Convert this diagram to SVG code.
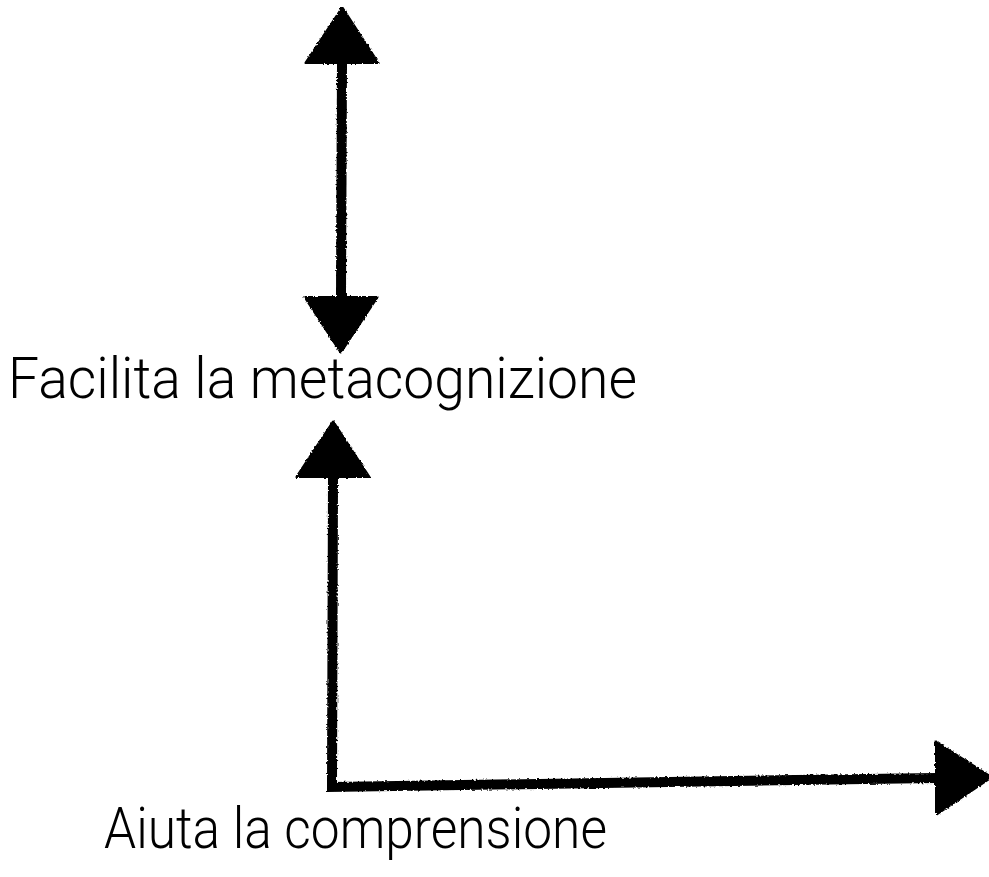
<svg xmlns="http://www.w3.org/2000/svg" width="989" height="877" viewBox="0 0 989 877">
  <defs>
    <style>
      .conn { fill: none; stroke: #000; stroke-width: 10; stroke-linejoin: miter; stroke-linecap: butt; filter: url(#rough); }
      .label { font-family: Roboto, "Liberation Sans", Arial, sans-serif; font-size: 57px; font-weight: 300; fill: #000; }
    </style>
    <filter id="rough" filterUnits="userSpaceOnUse" x="0" y="0" width="989" height="877">
      <feTurbulence type="fractalNoise" baseFrequency="0.5" numOctaves="2" seed="3" result="n"/>
      <feDisplacementMap in="SourceGraphic" in2="n" scale="3" xChannelSelector="R" yChannelSelector="G"/>
    </filter>
    <marker id="head" viewBox="-1 -38 60 76" markerWidth="60" markerHeight="76" refX="0" refY="0" orient="auto-start-reverse" markerUnits="userSpaceOnUse">
      <path d="M0,-36 L55,0 L0,36 Z" fill="#000" stroke="#000" stroke-width="3" stroke-linejoin="round"/>
    </marker>
  </defs>
  <rect width="989" height="877" fill="#fff"/>
  <g id="connectors">
    <path class="conn" d="M342,63 L341,297" marker-start="url(#head)" marker-end="url(#head)"/>
    <path class="conn" d="M333,477 L332,787 L936,778" marker-start="url(#head)" marker-end="url(#head)"/>
  </g>
  <g id="node-metacognizione">
    <text class="label" x="8" y="398" textLength="629" lengthAdjust="spacingAndGlyphs">Facilita la metacognizione</text>
  </g>
  <g id="node-comprensione">
    <text class="label" x="104" y="848" textLength="503" lengthAdjust="spacingAndGlyphs">Aiuta la comprensione</text>
  </g>
</svg>
